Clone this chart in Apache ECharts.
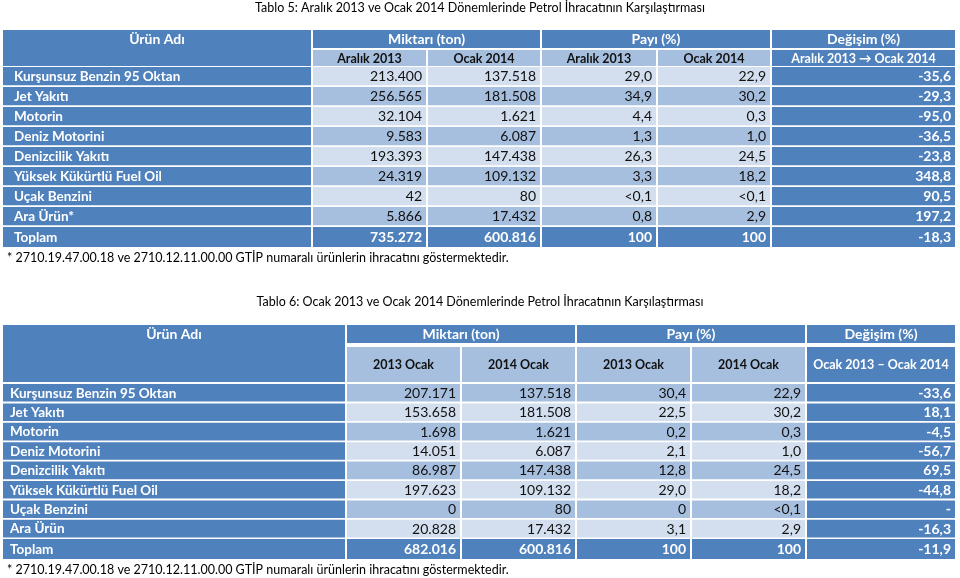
<!DOCTYPE html>
<html><head><meta charset="utf-8">
<script src="https://cdn.jsdelivr.net/npm/echarts@6/dist/echarts.min.js"></script>
<style>html,body{margin:0;padding:0;background:#fff}#c{width:960px;height:578px}</style>
</head><body><div id="c"></div>
<script>
// ---------- DATA ----------
const title5 = 'Tablo 5: Aralık 2013 ve Ocak 2014 Dönemlerinde Petrol İhracatının Karşılaştırması';
const title6 = 'Tablo 6: Ocak 2013 ve Ocak 2014 Dönemlerinde Petrol İhracatının Karşılaştırması';
const footnote = '* 2710.19.47.00.18 ve 2710.12.11.00.00 GTİP numaralı ürünlerin ihracatını göstermektedir.';
const groupHeaders = ['Ürün Adı', 'Miktarı (ton)', 'Payı (%)', 'Değişim (%)'];
const sub5 = ['Aralık 2013', 'Ocak 2014', 'Aralık 2013', 'Ocak 2014', 'Aralık 2013 → Ocak 2014'];
const sub6 = ['2013 Ocak', '2014 Ocak', '2013 Ocak', '2014 Ocak', 'Ocak 2013 – Ocak 2014'];

const products5 = ['Kurşunsuz Benzin 95 Oktan','Jet Yakıtı','Motorin','Deniz Motorini','Denizcilik Yakıtı','Yüksek Kükürtlü Fuel Oil','Uçak Benzini','Ara Ürün*','Toplam'];
const qtyA5 = ['213.400','256.565','32.104','9.583','193.393','24.319','42','5.866','735.272'];
const qtyB5 = ['137.518','181.508','1.621','6.087','147.438','109.132','80','17.432','600.816'];
const shareA5 = ['29,0','34,9','4,4','1,3','26,3','3,3','<0,1','0,8','100'];
const shareB5 = ['22,9','30,2','0,3','1,0','24,5','18,2','<0,1','2,9','100'];
const change5 = ['-35,6','-29,3','-95,0','-36,5','-23,8','348,8','90,5','197,2','-18,3'];

const products6 = ['Kurşunsuz Benzin 95 Oktan','Jet Yakıtı','Motorin','Deniz Motorini','Denizcilik Yakıtı','Yüksek Kükürtlü Fuel Oil','Uçak Benzini','Ara Ürün','Toplam'];
const qtyA6 = ['207.171','153.658','1.698','14.051','86.987','197.623','0','20.828','682.016'];
const qtyB6 = ['137.518','181.508','1.621','6.087','147.438','109.132','80','17.432','600.816'];
const shareA6 = ['30,4','22,5','0,2','2,1','12,8','29,0','0','3,1','100'];
const shareB6 = ['22,9','30,2','0,3','1,0','24,5','18,2','<0,1','2,9','100'];
const change6 = ['-33,6','18,1','-4,5','-56,7','69,5','-44,8','-','-16,3','-11,9'];

// ---------- LAYOUT / STYLE ----------
const FONT = 'Lato, "Noto Sans", sans-serif';
const DARK = '#4F81BD', MID = '#A7BFDE', LIGHT = '#D3DFEE';
const layout5 = {
  cols: [[3,311],[313,426],[428,540],[542,656],[658,770],[772,955]],
  h1: [30,48], h2: [50,66], rowTop: 67, rowStep: 20, rowH: 18.3, total: [227,247],
  firstShade: LIGHT, namePad: 11
};
const layout6 = {
  cols: [[3,345],[347,460],[462,575],[577,690],[692,805],[807,955]],
  h1: [325,343], h2: [347,382], rowTop: 384, rowStep: 19.4, rowH: 17.6, total: [539,559],
  firstShade: MID, namePad: 7
};

const cells = [];
function cell(x0, y0, x1, y1, fill, text, o) {
  cells.push(Object.assign({x0, y0, x1, y1, fill, text, color: '#fff', bold: true, align: 'center', size: 14, ty: null}, o || {}));
}
function buildTable(L, sub, cols) {
  const C = L.cols;
  // header
  cell(C[0][0], L.h1[0], C[0][1], L.h2[1], DARK, groupHeaders[0], {ty: (L.h1[0] + L.h1[1]) / 2});
  cell(C[1][0], L.h1[0], C[2][1], L.h1[1], DARK, groupHeaders[1]);
  cell(C[3][0], L.h1[0], C[4][1], L.h1[1], DARK, groupHeaders[2]);
  cell(C[5][0], L.h1[0], C[5][1], L.h1[1], DARK, groupHeaders[3]);
  for (let j = 0; j < 5; j++) {
    const dk = j === 4;
    cell(C[j+1][0], L.h2[0], C[j+1][1], L.h2[1], dk ? DARK : MID, sub[j],
      {color: dk ? '#fff' : '#111', size: 12.5});
  }
  const n = cols[0].length;
  for (let i = 0; i < n; i++) {
    const isTotal = i === n - 1;
    const y0 = isTotal ? L.total[0] : L.rowTop + i * L.rowStep;
    const y1 = isTotal ? L.total[1] : y0 + L.rowH;
    const shade = (i % 2 === 0) ? L.firstShade : (L.firstShade === LIGHT ? MID : LIGHT);
    cell(C[0][0], y0, C[0][1], y1, DARK, cols[0][i], {align: 'left', pad: L.namePad, size: 13.5});
    for (let j = 1; j < 6; j++) {
      const dk = isTotal || j === 5;
      cell(C[j][0], y0, C[j][1], y1, dk ? DARK : shade, cols[j][i],
        {align: 'right', pad: 4, color: dk ? '#fff' : '#111', bold: dk, size: 14});
    }
  }
}
buildTable(layout5, sub5, [products5, qtyA5, qtyB5, shareA5, shareB5, change5]);
buildTable(layout6, sub6, [products6, qtyA6, qtyB6, shareA6, shareB6, change6]);

const plainText = {fontFamily: FONT, fontSize: 12.5, fontWeight: 'normal', color: '#000'};
const chart = echarts.init(document.getElementById('c'), null, {renderer: 'canvas'});
chart.setOption({
  animation: false,
  backgroundColor: '#fff',
  title: [
    {text: title5, left: 'center', top: 1, padding: 0, textStyle: plainText},
    {text: title6, left: 'center', top: 295, padding: 0, textStyle: plainText},
    {text: footnote, left: 7, top: 251, padding: 0, textStyle: plainText},
    {text: footnote, left: 7, top: 563, padding: 0, textStyle: plainText}
  ],
  grid: {left: 0, top: 0, right: 0, bottom: 0},
  xAxis: {type: 'value', min: 0, max: 960, show: false},
  yAxis: {type: 'value', min: 0, max: 578, inverse: true, show: false},
  series: [{
    type: 'custom',
    clip: false,
    data: cells.map(c => [c.x0, c.y0, c.x1, c.y1]),
    encode: {x: [0, 2], y: [1, 3]},
    renderItem: function (params, api) {
      const c = cells[params.dataIndex];
      const p0 = api.coord([c.x0, c.y0]);
      const p1 = api.coord([c.x1, c.y1]);
      const ty = c.ty != null ? api.coord([0, c.ty])[1] : (p0[1] + p1[1]) / 2;
      let tx = (p0[0] + p1[0]) / 2;
      if (c.align === 'left') tx = p0[0] + c.pad;
      if (c.align === 'right') tx = p1[0] - c.pad;
      return {
        type: 'group',
        children: [
          {type: 'rect', shape: {x: p0[0], y: p0[1], width: p1[0] - p0[0], height: p1[1] - p0[1]}, style: {fill: c.fill}},
          {type: 'text', style: {x: tx, y: ty + 0.5, text: c.text, fill: c.color, align: c.align, verticalAlign: 'middle',
            font: (c.bold ? 'bold ' : '') + c.size + 'px ' + FONT}}
        ]
      };
    }
  }]
});
</script></body></html>
